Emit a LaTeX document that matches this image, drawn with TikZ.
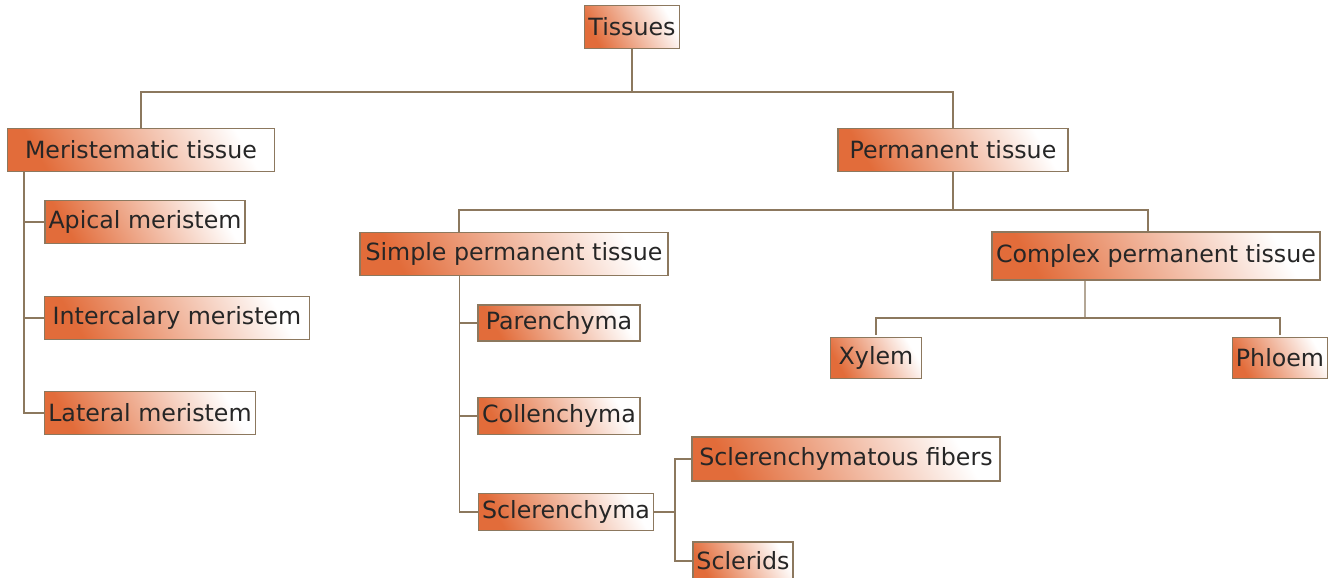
\documentclass[tikz,border=0pt]{standalone}
\usepackage{fontspec}
\setmainfont{DejaVu Sans}
\definecolor{boxorange}{RGB}{226,108,58}
\definecolor{linebrown}{RGB}{140,120,94}
\tikzset{
  tissuebox/.style={draw=linebrown, line width=0.7pt, top color=boxorange, middle color=boxorange!35, bottom color=white, shading angle=120, minimum height=0.86cm, inner sep=2pt, font=\fontsize{13.5}{16}\selectfont, text=black!85},
  link/.style={draw=linebrown, line width=0.8pt}
}
\begin{document}
\begin{tikzpicture}[x=0.02cm, y=-0.02cm]
        \useasboundingbox (0,0) rectangle (1336,578);

        % Root and first level
        \node[tissuebox, minimum width=1.9cm] (tis) at (632,27) {Tissues};
        \node[tissuebox, minimum width=5.34cm] (mer) at (141,150) {Meristematic tissue};
        \node[tissuebox, minimum width=4.6cm] (per) at (953,150) {Permanent tissue};

        % Meristematic branches
        \node[tissuebox, minimum width=4.0cm] (api) at (145,222) {Apical meristem};
        \node[tissuebox, minimum width=5.3cm] (int) at (177,318) {Intercalary meristem};
        \node[tissuebox, minimum width=4.2cm] (lat) at (150,413) {Lateral meristem};

        % Permanent branches
        \node[tissuebox, minimum width=6.16cm] (sim) at (514,254) {Simple permanent tissue};
        \node[tissuebox, minimum width=6.56cm, minimum height=0.96cm] (com) at (1156,256) {Complex permanent tissue};

        % Simple permanent tissue
        \node[tissuebox, minimum width=3.24cm, minimum height=0.72cm] (par) at (559,323) {Parenchyma};
        \node[tissuebox, minimum width=3.24cm, minimum height=0.74cm] (col) at (559,416) {Collenchyma};
        \node[tissuebox, minimum width=3.48cm, minimum height=0.74cm] (scl) at (566,512) {Sclerenchyma};
        \node[tissuebox, minimum width=6.16cm, minimum height=0.88cm] (fib) at (846,459) {Sclerenchymatous fibers};
        \node[tissuebox, minimum width=2.0cm, minimum height=0.76cm] (sds) at (743,561) {Sclerids};

        % Complex permanent tissue
        \node[tissuebox, minimum width=1.82cm, minimum height=0.82cm] (xyl) at (876,358) {Xylem};
        \node[tissuebox, minimum width=1.88cm, minimum height=0.82cm] (phl) at (1280,358) {Phloem};

        % Bus points
        \coordinate (tbus) at (632,92);
        \coordinate (pbus) at (953,210);
        \coordinate (sbus) at (675,512);
        \coordinate (cbus) at (1085,318);

        % Connectors
        \draw[link] (tis.south) -- (tbus);
        \draw[link] (mer.north) |- (tbus) -| (per.north);
        \draw[link] ([xshift=0.34cm]mer.south west) |- (api.west);
        \draw[link] ([xshift=0.34cm]mer.south west) |- (int.west);
        \draw[link] ([xshift=0.34cm]mer.south west) |- (lat.west);

        \draw[link] (per.south) -- (pbus);
        \draw[link] ([xshift=-1.1cm]sim.north) |- (pbus) -| ([xshift=-0.16cm]com.north);
        \draw[link] ([xshift=2cm]sim.south west) |- (par.west);
        \draw[link] ([xshift=2cm]sim.south west) |- (col.west);
        \draw[link] ([xshift=2cm]sim.south west) |- (scl.west);

        \draw[link] (scl.east) -- (sbus);
        \draw[link] (fib.west) -| (sbus);
        \draw[link] (sds.west) -| (sbus);

        \draw[link] ([xshift=-1.42cm]com.south) -- (cbus);
        \draw[link] ([yshift=0.04cm]xyl.north) |- (cbus) -| ([yshift=0.04cm]phl.north);
\end{tikzpicture}
\end{document}
